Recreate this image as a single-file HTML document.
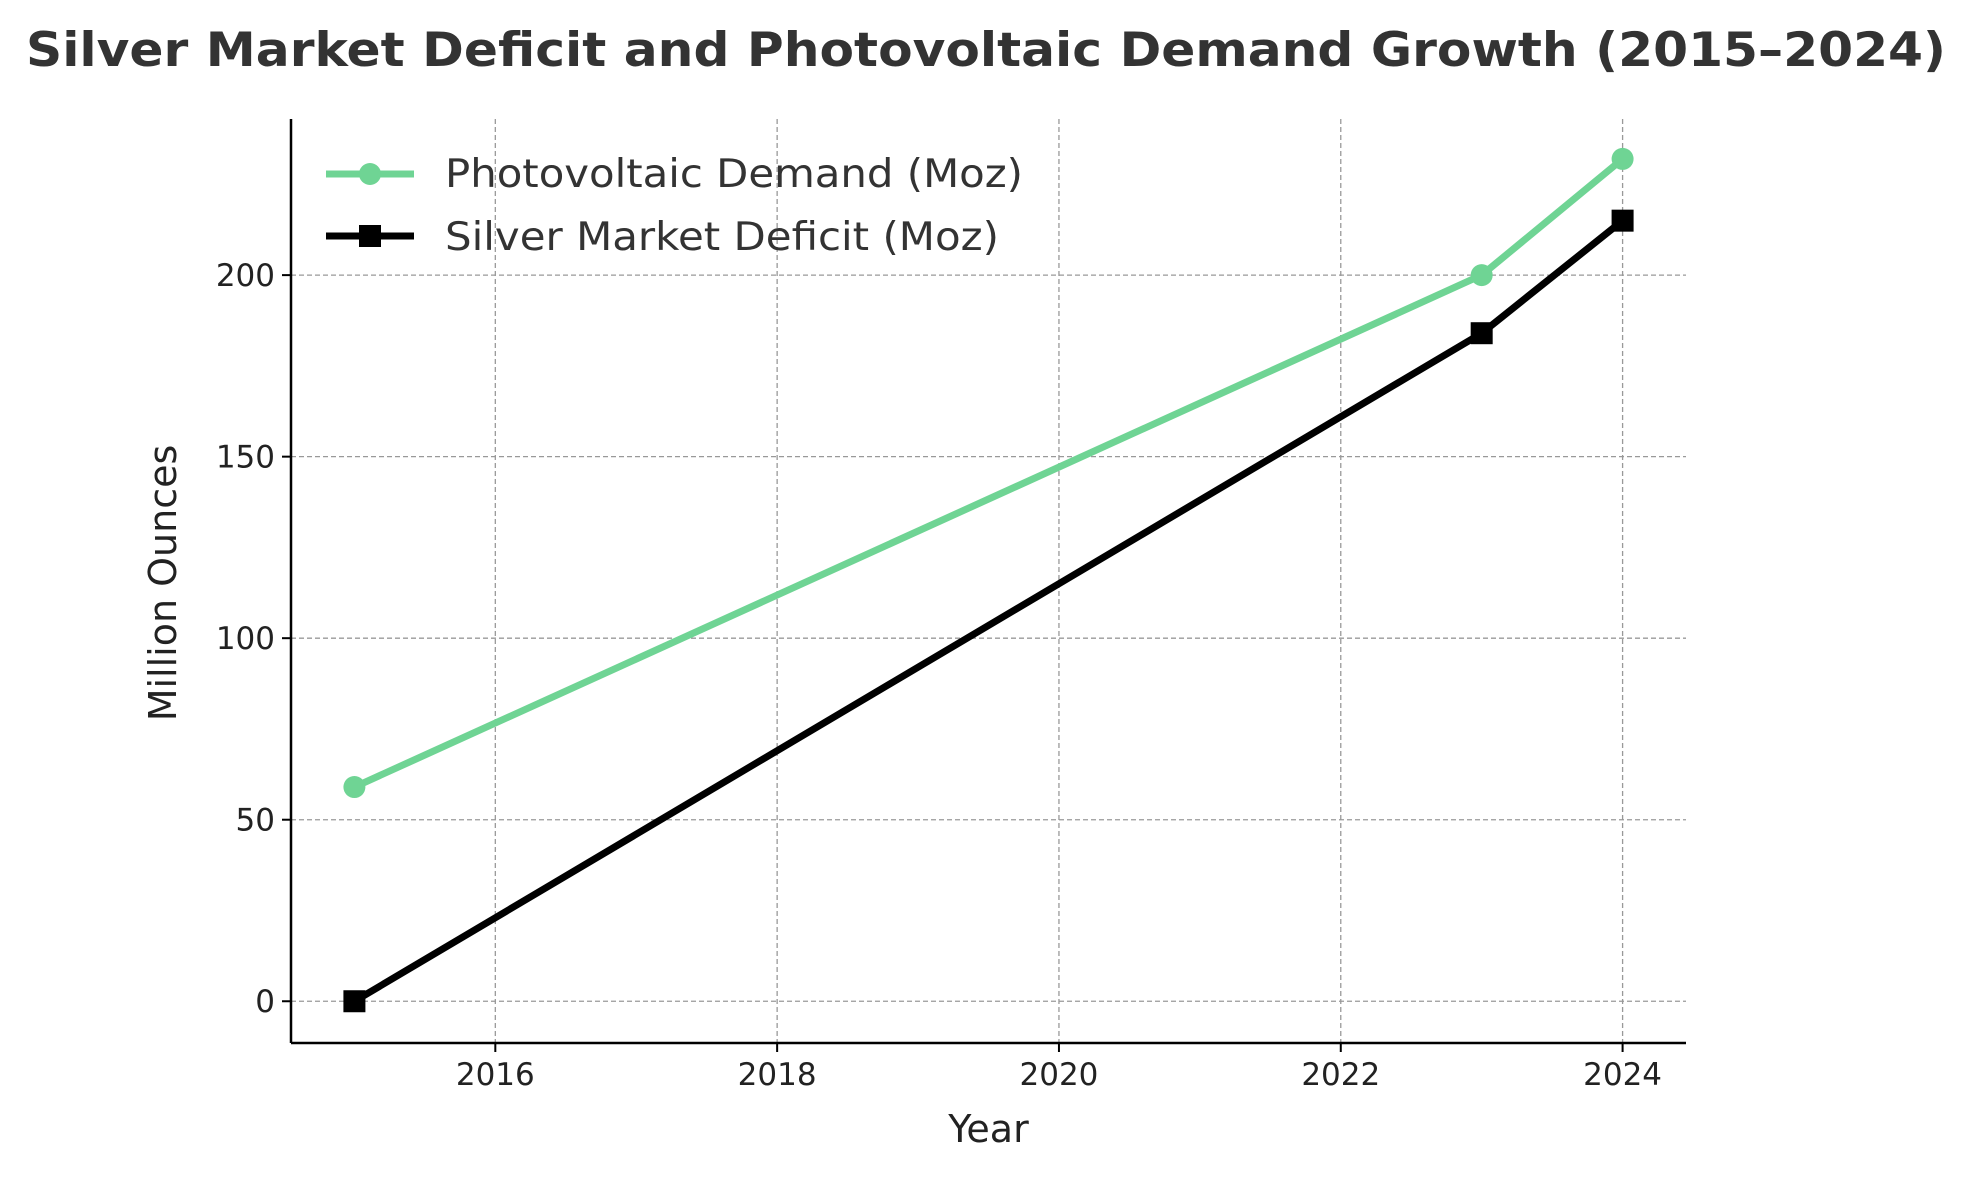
<!DOCTYPE html>
<html><head><meta charset="utf-8"><style>
html,body{margin:0;padding:0;background:#fff;}
svg{display:block;font-family:"DejaVu Sans","Liberation Sans",sans-serif;}
</style></head><body>
<svg id="chart" width="1973" height="1181" viewBox="0 0 1973 1181" xmlns="http://www.w3.org/2000/svg">
<rect width="1973" height="1181" fill="#fff"/>
<text x="986" y="66" text-anchor="middle" font-size="47" font-weight="bold" fill="#333" textLength="1920" lengthAdjust="spacingAndGlyphs">Silver Market Deficit and Photovoltaic Demand Growth (2015–2024)</text>
<g id="grid"></g>
<g id="axes"></g>
<g id="series"></g>
<g id="legend">
  <line x1="326" y1="174" x2="414" y2="174" stroke="#6fd494" stroke-width="7"/>
  <circle cx="370" cy="174" r="11" fill="#6fd494"/>
  <text x="445" y="187" font-size="39" fill="#333" textLength="578" lengthAdjust="spacingAndGlyphs">Photovoltaic Demand (Moz)</text>
  <line x1="326" y1="236" x2="414" y2="236" stroke="#000" stroke-width="7"/>
  <rect x="359" y="225" width="22" height="22" fill="#000"/>
  <text x="445" y="250" font-size="39" fill="#333" textLength="554" lengthAdjust="spacingAndGlyphs">Silver Market Deficit (Moz)</text>
</g>
</svg>
<script>
const years = [2015, 2023, 2024];
const pvDemand = [59, 200, 232];
const deficit = [0, 184, 215];
const xTicks = [2016, 2018, 2020, 2022, 2024];
const yTicks = [0, 50, 100, 150, 200];

const L = 291, R = 1686, T = 119, B = 1043;
const xMin = 2014.55, xMax = 2024.45, yMin = -11.5, yMax = 243;
const xs = v => L + (v - xMin) / (xMax - xMin) * (R - L);
const ys = v => B - (v - yMin) / (yMax - yMin) * (B - T);
const NS = 'http://www.w3.org/2000/svg';
function mk(tag, attrs, parent) {
  const e = document.createElementNS(NS, tag);
  for (const k in attrs) e.setAttribute(k, attrs[k]);
  parent.appendChild(e);
  return e;
}
const grid = document.getElementById('grid');
const axes = document.getElementById('axes');
const series = document.getElementById('series');

xTicks.forEach(t => {
  const g = mk('line', {x1: xs(t), x2: xs(t), y1: T, y2: B, stroke: '#999', 'stroke-width': 1.3, 'stroke-dasharray': '5,3'}, grid);
  
  
  const tk = mk('line', {x1: xs(t), x2: xs(t), y1: B, y2: B + 9, stroke: '#000', 'stroke-width': 2}, axes);
  
  
  const lb = mk('text', {x: xs(t), y: B + 42, 'text-anchor': 'middle', 'font-size': 31, fill: '#222'}, axes);
  lb.textContent = t;
  
  
});
yTicks.forEach(t => {
  const g = mk('line', {x1: L, x2: R, y1: ys(t), y2: ys(t), stroke: '#999', 'stroke-width': 1.3, 'stroke-dasharray': '5,3'}, grid);
  
  
  const tk = mk('line', {x1: L - 9, x2: L, y1: ys(t), y2: ys(t), stroke: '#000', 'stroke-width': 2}, axes);
  
  
  const lb = mk('text', {x: L - 16, y: ys(t) + 11, 'text-anchor': 'end', 'font-size': 31, fill: '#222'}, axes);
  lb.textContent = t;
  
  
});
const la = mk('line', {x1: L, x2: L, y1: T, y2: B, stroke: '#000', 'stroke-width': 2.5}, axes);


const ba = mk('line', {x1: L, x2: R, y1: B, y2: B, stroke: '#000', 'stroke-width': 2.5}, axes);


const xt = mk('text', {x: (L + R) / 2, y: 1142, 'text-anchor': 'middle', 'font-size': 38, fill: '#222'}, axes);
xt.textContent = 'Year';


const yt = mk('text', {x: 0, y: 0, 'text-anchor': 'middle', 'font-size': 38, fill: '#222', transform: 'translate(176,' + ((T + B) / 2 + 2) + ') rotate(-90)'}, axes);
yt.textContent = 'Million Ounces';



const pvLine = mk('polyline', {points: years.map((y, i) => xs(y) + ',' + ys(pvDemand[i])).join(' '), fill: 'none', stroke: '#6fd494', 'stroke-width': 7, 'stroke-linejoin': 'round'}, series);


const dLine = mk('polyline', {points: years.map((y, i) => xs(y) + ',' + ys(deficit[i])).join(' '), fill: 'none', stroke: '#000', 'stroke-width': 7, 'stroke-linejoin': 'round'}, series);


years.forEach((y, i) => {
  const c = mk('circle', {cx: xs(y), cy: ys(pvDemand[i]), r: 11, fill: '#6fd494'}, series);
  
  
  const s = mk('rect', {x: xs(y) - 11, y: ys(deficit[i]) - 11, width: 22, height: 22, fill: '#000'}, series);
  
  
});
</script>
</body></html>
